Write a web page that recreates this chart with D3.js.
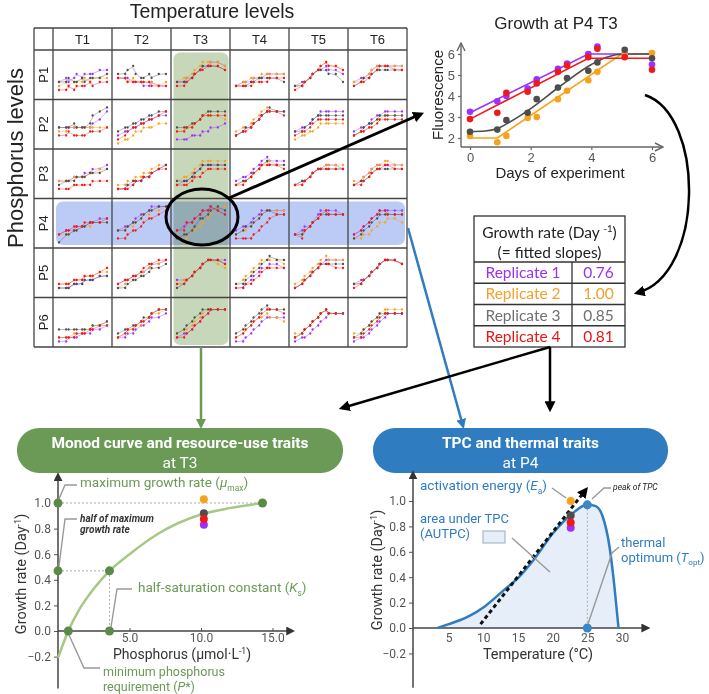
<!DOCTYPE html>
<html>
<head>
<meta charset="utf-8">
<script src="https://cdn.jsdelivr.net/npm/d3@7"></script>
<style>
body { margin: 0; background: #fff; }
svg { display: block; font-family: "Liberation Sans", Arial, sans-serif; }
</style>
</head>
<body>
<svg width="709" height="694"></svg>
<script>
// ---------------- data ----------------
var tempLevels = ["T1", "T2", "T3", "T4", "T5", "T6"];
var phosLevels = ["P1", "P2", "P3", "P4", "P5", "P6"];
var sampleDays = [0, 0.9, 1.2, 1.9, 2.2, 2.9, 3.2, 3.9, 4.2, 5.1, 6];
var replicates = ["Replicate 1", "Replicate 2", "Replicate 3", "Replicate 4"];
var growthRates = ["0.76", "1.00", "0.85", "0.81"];

// small panels, one row per phosphorus level, one cell per temperature:
// readings of replicate 1..4 (0-9 scale), one digit per sampling day
var gridP1 = [
	"34345455566 23233343444 33433434445 11212223233",
	"44433322322 44343333323 55675445455 44333333222",
	"33445677887 34456788887 33345677776 22345667776",
	"23334445555 23344455555 22233444443 22223333444",
	"23345667665 22345678776 22345666553 12345678776",
	"34456777777 33456777777 23445666666 23345677766"
];
var gridP2 = [
	"44444444568 33444444444 44454445789 22322223334",
	"23344556677 01123344455 34455667788 12344556678",
	"11122233445 33445677776 44455678888 33445677777",
	"23445678888 34456789888 23445678988 23345678887",
	"34456788888 12233455555 33456777777 23345666666",
	"34456778888 23345667777 23455677777 23344566666"
];
var gridP3 = [
	"33344455667 33344445566 23334445556 11122222333",
	"11223344567 22334455677 11233344567 11123344566",
	"23345677777 34456788888 33345677777 22234456666",
	"34456789888 23345678877 23345678777 22345677776",
	"23345667776 22345667777 23345666666 22345666666",
	"23456777777 33456778877 23345666666 22345667766"
];
var gridP4 = [
	"23334445566 22233444555 02233445555 23344455556",
	"34456778999 33445677889 33455678899 11233456678",
	"34556788987 10133456799 12234667898 33556788987",
	"34456788888 23345678888 23445678877 11112345677",
	"23445788887 22345678777 22345677777 21345678777",
	"23456788888 11223455665 12345677777 23456788777"
];
var gridP5 = [
	"11122233344 22233344455 11122233344 22233344456",
	"23344556778 12334456778 11233445667 23344567788",
	"33345678888 23345678876 12345678887 22345678887",
	"11234566776 23456788887 22345678988 11223456666",
	"12345678888 23456789888 12345677777 12345677766",
	"23345678887 22345678887 22345678887 12345678887"
];
var gridP6 = [
	"00111222334 11122233445 33333333445 11112223344",
	"11223445667 12334456778 23344566788 12334556788",
	"12234567888 23345678888 23456788888 11234567888",
	"00123456666 12345667665 23456789888 12345678887",
	"01123456777 22345678777 12345678777 12345678777",
	"01123456777 22345678888 12345677777 11234567777"
];
var gridRows = [gridP1, gridP2, gridP3, gridP4, gridP5, gridP6];

// growth at P4 T3 (fluorescence)
var fluoRep1 = [3.25, 3.75, 4.0, 4.35, 4.8, 5.3, 5.55, 6.0, 6.35, 6.0, 5.5];
var fluoRep2 = [2.1, 1.8, 2.1, 2.95, 3.0, 3.85, 4.25, 4.75, 5.15, 5.95, 6.05];
var fluoRep3 = [2.3, 2.4, 2.85, 3.2, 3.85, 4.4, 4.85, 5.2, 5.6, 6.2, 5.8];
var fluoRep4 = [2.9, 3.2, 4.15, 4.2, 4.6, 5.15, 5.45, 5.85, 6.25, 5.85, 5.25];
var fitRep1 = [[0, 3.2], [3.9, 6.0], [6, 6.0]];
var fitRep2 = [[0, 2.0], [0.9, 2.0], [5.0, 6.0], [6, 6.0]];
var fitRep3 = [[0, 2.3], [0.5, 2.33], [0.9, 2.45], [1.3, 2.75], [2, 3.4], [3, 4.5], [4, 5.5], [4.5, 5.85], [5.1, 6.0], [6, 6.0]];
var fitRep4 = [[0, 2.9], [3.9, 5.8], [6, 5.8]];

// Monod curve at T3
var monodP = [0, 0.72, 1.5, 2.5, 3.6, 5, 7, 10, 12, 14.3];
var monodMu = [-0.21, 0, 0.17, 0.33, 0.47, 0.6, 0.76, 0.91, 0.96, 1.0];
var monodTicksX = [5, 10, 15];
var monodTicksY = [-0.2, 0, 0.2, 0.4, 0.6, 0.8, 1.0];
var muMax = 1.0, halfMu = 0.47, kS = 3.6, pStar = 0.72, pSat = 14.3;
var monodRepP = 10.2;
var monodRepMu = [0.83, 1.03, 0.92, 0.875];

// thermal performance curve at P4
var tpcTemp = [3.4, 5, 6.7, 8, 10.2, 13, 15.2, 17.3, 20.1, 22.6, 25, 26.2, 27.2, 28.2, 28.9, 29.5];
var tpcRate = [0, 0.03, 0.063, 0.095, 0.17, 0.3, 0.405, 0.54, 0.75, 0.89, 0.97, 0.96, 0.88, 0.64, 0.33, 0];
var tpcTicksX = [5, 10, 15, 20, 25, 30];
var tpcTicksY = [-0.2, 0, 0.2, 0.4, 0.6, 0.8, 1.0];
var tOpt = 25, peakRate = 0.97;
var eaLine = [[9.6, 0.03], [24.8, 1.09]];
var tpcRepT = 22.6;
var tpcRepRate = [0.79, 1.0, 0.885, 0.83];

// ---------------- style ----------------
var repColors = ["#9b30ff", "#f7a21b", "#4d4d4d", "#f01818"];
var tableColors = ["#9b30f0", "#f2a12a", "#707070", "#e81515"];
var green = "#6b9a56", darkGreen = "#5b8a48", lightGreen = "#a5c882";
var blue = "#2f7cc0", dotBlue = "#3a86c8";

var svg = d3.select("svg");
var defs = svg.append("defs");

function marker(id, color, size, open) {
	var m = defs.append("marker")
		.attr("id", id)
		.attr("viewBox", "0 0 10 10")
		.attr("refX", open ? 9 : 7)
		.attr("refY", 5)
		.attr("markerWidth", size)
		.attr("markerHeight", size)
		.attr("markerUnits", "userSpaceOnUse")
		.attr("orient", "auto");
	if (open)
		m.append("path").attr("d", "M1,1 L9,5 L1,9").attr("fill", "none").attr("stroke", color).attr("stroke-width", 1.4);
	else
		m.append("path").attr("d", "M0,0 L10,5 L0,10 z").attr("fill", color);
}
marker("arBlack", "#000", 11);
marker("arGreen", green, 10);
marker("arBlue", blue, 10);
marker("arAxis", "#333", 9);
marker("arOpen", "#666", 10, true);

// text with italic / sub / sup parts
function rich(parent, x, y, parts, size, color, anchor) {
	var t = parent.append("text")
		.attr("x", x).attr("y", y)
		.attr("font-size", size)
		.attr("fill", color)
		.attr("text-anchor", anchor || "start");
	var shift = 0;
	parts.forEach(p => {
		if (typeof p === "string") p = {t: p};
		var s = t.append("tspan").text(p.t);
		var target = p.sub ? size * 0.28 : p.sup ? -size * 0.38 : 0;
		if (target !== shift) { s.attr("dy", target - shift); shift = target; }
		if (p.sub || p.sup) s.attr("font-size", size * 0.62);
		if (p.i) s.attr("font-style", "italic");
	});
	return t;
}

// ---------------- grid of growth curves ----------------
var cols = d3.scaleBand().domain(tempLevels).range([53, 407]);
var rows = d3.scaleBand().domain(phosLevels).range([50, 347]);
var gridLeft = 34, gridTop = 28;

svg.append("text")
	.attr("x", 212).attr("y", 17.5)
	.attr("text-anchor", "middle")
	.attr("font-size", 19.5)
	.attr("fill", "#222")
	.text("Temperature levels");

svg.append("text")
	.attr("transform", "translate(23,158) rotate(-90)")
	.attr("text-anchor", "middle")
	.attr("font-size", 22)
	.attr("fill", "#222")
	.text("Phosphorus levels");

// highlights of column T3 and row P4
svg.append("rect")
	.attr("x", cols("T3") + 2.5).attr("y", rows("P1") + 2.5)
	.attr("width", cols.bandwidth() - 4).attr("height", rows.range()[1] - rows("P1") - 4.5)
	.attr("rx", 7)
	.attr("fill", "#c7d7ba");
svg.append("rect")
	.attr("x", cols("T1") + 3).attr("y", rows("P4") + 3)
	.attr("width", cols.range()[1] - cols("T1") - 5).attr("height", rows.bandwidth() - 6)
	.attr("rx", 7)
	.attr("fill", "#bccbf6")
	.style("mix-blend-mode", "multiply");

var miniX = d3.scaleLinear().domain([0, 6]).range([6, 54]);
var miniY = d3.scaleLinear().domain([0, 9]).range([44, 8]);
var miniLine = d3.line()
	.x((d, i) => miniX(sampleDays[i]))
	.y(d => miniY(d))
	.curve(d3.curveBasis);

gridRows.forEach((row, i) => {
	row.forEach((cell, j) => {
		var g = svg.append("g")
			.attr("transform", "translate(" + cols(tempLevels[j]) + "," + rows(phosLevels[i]) + ")");
		cell.split(" ").forEach((s, k) => {
			var vals = s.split("").map(Number);
			g.append("path")
				.attr("d", miniLine(vals))
				.attr("fill", "none")
				.attr("stroke", repColors[k])
				.attr("stroke-width", 0.9)
				.attr("opacity", 0.45);
			g.selectAll(null)
				.data(vals)
				.enter().append("circle")
				.attr("cx", (d, n) => miniX(sampleDays[n]))
				.attr("cy", d => miniY(d))
				.attr("r", 1.15)
				.attr("fill", repColors[k]);
		});
	});
});

// grid lines
var gridLines = svg.append("g").attr("stroke", "#444").attr("stroke-width", 1.3);
var xs = [gridLeft].concat(tempLevels.map(t => cols(t)), [cols.range()[1]]);
var ys = [gridTop].concat(phosLevels.map(p => rows(p)), [rows.range()[1]]);
xs.forEach(x => gridLines.append("line").attr("x1", x).attr("x2", x).attr("y1", gridTop).attr("y2", rows.range()[1]));
ys.forEach(y => gridLines.append("line").attr("x1", gridLeft).attr("x2", cols.range()[1]).attr("y1", y).attr("y2", y));

svg.selectAll(".tlab")
	.data(tempLevels)
	.enter().append("text")
	.attr("x", d => cols(d) + cols.bandwidth() / 2)
	.attr("y", 44)
	.attr("text-anchor", "middle")
	.attr("font-size", 13)
	.attr("fill", "#222")
	.text(d => d);
svg.selectAll(".plab")
	.data(phosLevels)
	.enter().append("text")
	.attr("transform", d => "translate(48," + (rows(d) + rows.bandwidth() / 2) + ") rotate(-90)")
	.attr("text-anchor", "middle")
	.attr("font-size", 13)
	.attr("fill", "#222")
	.text(d => d);

// circle on P4 T3 and arrow to growth plot
svg.append("ellipse")
	.attr("cx", 202).attr("cy", 217).attr("rx", 36).attr("ry", 28)
	.attr("fill", "none").attr("stroke", "#000").attr("stroke-width", 3);
svg.append("line")
	.attr("x1", 229).attr("y1", 198).attr("x2", 421).attr("y2", 114)
	.attr("stroke", "#000").attr("stroke-width", 3)
	.attr("marker-end", "url(#arBlack)");

// ---------------- growth at P4 T3 ----------------
var gx = d3.scaleLinear().domain([0, 6]).range([470, 652]);
var gy = d3.scaleLinear().domain([2, 6]).range([138, 54]);
var gPlot = svg.append("g");
gPlot.append("text")
	.attr("x", 556).attr("y", 29)
	.attr("text-anchor", "middle").attr("font-size", 17).attr("fill", "#222")
	.text("Growth at P4 T3");
gPlot.append("line").attr("x1", 461).attr("y1", 147).attr("x2", 461).attr("y2", 43)
	.attr("stroke", "#666").attr("stroke-width", 1.4).attr("marker-end", "url(#arOpen)");
gPlot.append("line").attr("x1", 461).attr("y1", 147).attr("x2", 663).attr("y2", 147)
	.attr("stroke", "#666").attr("stroke-width", 1.4).attr("marker-end", "url(#arOpen)");
var gAxX = gPlot.append("g").attr("transform", "translate(0,147)")
	.call(d3.axisBottom(gx).tickValues([0, 2, 4, 6]).tickFormat(d3.format("d")).tickSize(3).tickPadding(3));
var gAxY = gPlot.append("g").attr("transform", "translate(461,0)")
	.call(d3.axisLeft(gy).tickValues([2, 3, 4, 5, 6]).tickFormat(d3.format("d")).tickSize(3).tickPadding(3));
[gAxX, gAxY].forEach(a => {
	a.select(".domain").remove();
	a.selectAll("line").attr("stroke", "#666").attr("stroke-width", 1.2);
	a.selectAll("text").attr("font-size", 13).attr("fill", "#555").attr("font-family", "Liberation Sans");
});
gPlot.append("text")
	.attr("transform", "translate(443,95) rotate(-90)")
	.attr("text-anchor", "middle").attr("font-size", 15).attr("fill", "#222")
	.text("Fluorescence");
gPlot.append("text")
	.attr("x", 560).attr("y", 178)
	.attr("text-anchor", "middle").attr("font-size", 15).attr("fill", "#222")
	.text("Days of experiment");

var fitLine = d3.line().x(d => gx(d[0])).y(d => gy(d[1]));
[fitRep1, fitRep2, fitRep3, fitRep4].forEach((f, k) => {
	gPlot.append("path").attr("d", fitLine.curve(k === 2 ? d3.curveMonotoneX : d3.curveLinear)(f))
		.attr("fill", "none").attr("stroke", repColors[k]).attr("stroke-width", 1.6);
});
[fluoRep1, fluoRep2, fluoRep3, fluoRep4].forEach((vals, k) => {
	gPlot.selectAll(null).data(vals).enter().append("circle")
		.attr("cx", (d, n) => gx(sampleDays[n]))
		.attr("cy", d => gy(d))
		.attr("r", 3.3)
		.attr("fill", repColors[k]);
});

// curved arrow to the table
svg.append("path")
	.attr("d", "M645,95 C705,115 705,275 637,293")
	.attr("fill", "none").attr("stroke", "#000").attr("stroke-width", 2.5)
	.attr("marker-end", "url(#arBlack)");

// ---------------- table of growth rates ----------------
var tab = svg.append("g").attr("font-family", "Lato, 'Open Sans', sans-serif");
var tabX0 = 474, tabX1 = 625, tabXm = 572;
var tabRows = d3.scaleBand().domain(replicates).range([262, 347]);
tab.append("rect").attr("x", tabX0).attr("y", 216).attr("width", tabX1 - tabX0).attr("height", 347 - 216)
	.attr("fill", "#fff").attr("stroke", "#333").attr("stroke-width", 1.3);
replicates.forEach(r => {
	tab.append("line").attr("x1", tabX0).attr("x2", tabX1).attr("y1", tabRows(r)).attr("y2", tabRows(r))
		.attr("stroke", "#333").attr("stroke-width", 1.3);
});
tab.append("line").attr("x1", tabXm).attr("x2", tabXm).attr("y1", 262).attr("y2", 347)
	.attr("stroke", "#333").attr("stroke-width", 1.3);
rich(tab, (tabX0 + tabX1) / 2, 237.5, ["Growth rate (Day ", {t: "-1", sup: true}, ")"], 15.5, "#222", "middle");
tab.append("text").attr("x", (tabX0 + tabX1) / 2).attr("y", 257.5)
	.attr("text-anchor", "middle").attr("font-size", 15.5).attr("fill", "#222")
	.text("(= fitted slopes)");
replicates.forEach((r, k) => {
	var yc = tabRows(r) + tabRows.bandwidth() / 2 + 5.5;
	tab.append("text").attr("x", (tabX0 + tabXm) / 2).attr("y", yc)
		.attr("text-anchor", "middle").attr("font-size", 15.5).attr("fill", tableColors[k]).text(r);
	tab.append("text").attr("x", (tabXm + tabX1) / 2).attr("y", yc)
		.attr("text-anchor", "middle").attr("font-size", 15.5).attr("fill", tableColors[k]).text(growthRates[k]);
});

// ---------------- connectors ----------------
svg.append("line").attr("x1", 201).attr("y1", 347).attr("x2", 201).attr("y2", 426)
	.attr("stroke", green).attr("stroke-width", 2.5).attr("marker-end", "url(#arGreen)");
svg.append("line").attr("x1", 408).attr("y1", 228).attr("x2", 463).attr("y2", 426)
	.attr("stroke", blue).attr("stroke-width", 2.5).attr("marker-end", "url(#arBlue)");
svg.append("line").attr("x1", 550).attr("y1", 347).attr("x2", 550).attr("y2", 409)
	.attr("stroke", "#000").attr("stroke-width", 2.5).attr("marker-end", "url(#arBlack)");
svg.append("line").attr("x1", 550).attr("y1", 347).attr("x2", 342).attr("y2", 408)
	.attr("stroke", "#000").attr("stroke-width", 2.5).attr("marker-end", "url(#arBlack)");

// ---------------- banners ----------------
var bottom = svg.append("g").attr("font-family", "Roboto, sans-serif");
function banner(x, w, color, title, sub) {
	bottom.append("rect").attr("x", x).attr("y", 428).attr("width", w).attr("height", 45).attr("rx", 22)
		.attr("fill", color);
	bottom.append("text").attr("x", x + w / 2).attr("y", 448)
		.attr("text-anchor", "middle").attr("font-size", 15.5).attr("font-weight", "bold").attr("fill", "#fff")
		.text(title);
	bottom.append("text").attr("x", x + w / 2).attr("y", 468)
		.attr("text-anchor", "middle").attr("font-size", 15.5).attr("fill", "#fff")
		.text(sub);
}
banner(17, 326, green, "Monod curve and resource-use traits", "at T3");
banner(373, 295, blue, "TPC and thermal traits", "at P4");

function styleAxis(a) {
	a.select(".domain").remove();
	a.selectAll("line").attr("stroke", "#555").attr("stroke-width", 1);
	a.selectAll("text").attr("font-size", 12).attr("fill", "#555").attr("font-family", "Roboto, sans-serif");
}

// ---------------- Monod panel ----------------
var mx = d3.scaleLinear().domain([0, 15]).range([58, 272.5]);
var my = d3.scaleLinear().domain([-0.2, 1.0]).range([656.6, 503]);
var mon = bottom.append("g");
var monAxX = mon.append("g").attr("transform", "translate(0," + my(0) + ")")
	.call(d3.axisBottom(mx).tickValues(monodTicksX).tickFormat(d3.format(".1f")).tickSize(0).tickPadding(2.5));
var monAxY = mon.append("g").attr("transform", "translate(" + mx(0) + ",0)")
	.call(d3.axisLeft(my).tickValues(monodTicksY).tickFormat(d3.format(".1f")).tickSize(4).tickPadding(3));
styleAxis(monAxX);
styleAxis(monAxY);
monAxX.selectAll("line").attr("y2", -3);
mon.append("line").attr("x1", mx(0)).attr("x2", mx(0)).attr("y1", my(-0.45)).attr("y2", my(1.22))
	.attr("stroke", "#444").attr("stroke-width", 1.5).attr("marker-end", "url(#arAxis)");
mon.append("line").attr("x1", mx(0)).attr("x2", mx(16.4)).attr("y1", my(0)).attr("y2", my(0))
	.attr("stroke", "#444").attr("stroke-width", 1.5).attr("marker-end", "url(#arAxis)");
rich(mon, 0, 0, ["Growth rate (Day", {t: "-1", sup: true}, ")"], 14.5, "#333", "middle")
	.attr("transform", "translate(26,574) rotate(-90)");
rich(mon, 182, 659, ["Phosphorus (\u00b5mol\u00b7L", {t: "-1", sup: true}, ")"], 14, "#333", "middle");

// guide lines
var guide = mon.append("g").attr("stroke", "#aaa").attr("stroke-width", 1).attr("stroke-dasharray", "2,2");
guide.append("line").attr("x1", mx(0)).attr("x2", mx(pSat)).attr("y1", my(muMax)).attr("y2", my(muMax));
guide.append("line").attr("x1", mx(0)).attr("x2", mx(kS)).attr("y1", my(halfMu)).attr("y2", my(halfMu));
guide.append("line").attr("x1", mx(kS)).attr("x2", mx(kS)).attr("y1", my(halfMu)).attr("y2", my(0));

mon.append("path")
	.attr("d", d3.line().x((d, i) => mx(monodP[i])).y(d => my(d)).curve(d3.curveMonotoneX)(monodMu))
	.attr("fill", "none").attr("stroke", lightGreen).attr("stroke-width", 2.5);

var monPts = [[0, muMax], [pSat, muMax], [0, halfMu], [kS, halfMu], [kS, 0], [pStar, 0]];
mon.selectAll(null).data(monPts).enter().append("circle")
	.attr("cx", d => mx(d[0])).attr("cy", d => my(d[1])).attr("r", 4.5).attr("fill", darkGreen);
mon.selectAll(null).data(monodRepMu).enter().append("circle")
	.attr("cx", mx(monodRepP)).attr("cy", d => my(d)).attr("r", 4).attr("fill", (d, k) => repColors[k]);

// leaders and labels
var leader = d3.line();
var lead = mon.append("g").attr("fill", "none").attr("stroke", "#999").attr("stroke-width", 1.4);
lead.append("path").attr("d", leader([[59, 499], [65, 485], [77, 485]]));
lead.append("path").attr("d", leader([[59, 566], [65, 519], [77, 519]]));
lead.append("path").attr("d", leader([[111, 627], [117, 589], [132, 589]]));
lead.append("path").attr("d", leader([[69, 635], [84, 668], [100, 668]]));
rich(mon, 80, 487, ["maximum growth rate (", {t: "\u03bc", i: true}, {t: "max", sub: true}, ")"], 13.5, green);
mon.append("text").attr("x", 80).attr("y", 522).attr("font-size", 10).attr("font-style", "italic")
	.attr("font-weight", "bold").attr("fill", "#333").text("half of maximum");
mon.append("text").attr("x", 80).attr("y", 533).attr("font-size", 10).attr("font-style", "italic")
	.attr("font-weight", "bold").attr("fill", "#333").text("growth rate");
rich(mon, 138, 592, ["half-saturation constant (", {t: "K", i: true}, {t: "s", sub: true}, ")"], 13.5, green);
mon.append("text").attr("x", 103).attr("y", 676).attr("font-size", 12.5).attr("fill", green).text("minimum phosphorus");
rich(mon, 103, 690.5, ["requirement (", {t: "P", i: true}, "*)"], 12.5, green);

// ---------------- TPC panel ----------------
var tx = d3.scaleLinear().domain([0, 30]).range([414, 622]);
var ty = d3.scaleLinear().domain([-0.2, 1.0]).range([653.4, 501]);
var tpc = bottom.append("g");
tpc.append("path")
	.attr("d", d3.area().x((d, i) => tx(tpcTemp[i])).y0(ty(0)).y1(d => ty(d)).curve(d3.curveMonotoneX)(tpcRate))
	.attr("fill", "#e6eef9");
var tpcAxX = tpc.append("g").attr("transform", "translate(0," + ty(0) + ")")
	.call(d3.axisBottom(tx).tickValues(tpcTicksX).tickSize(0).tickPadding(5));
var tpcAxY = tpc.append("g").attr("transform", "translate(413,0)")
	.call(d3.axisLeft(ty).tickValues(tpcTicksY).tickFormat(d3.format(".1f")).tickSize(4).tickPadding(3));
styleAxis(tpcAxX);
styleAxis(tpcAxY);
tpc.append("line").attr("x1", 413).attr("x2", 413).attr("y1", ty(-0.47)).attr("y2", ty(1.22))
	.attr("stroke", "#444").attr("stroke-width", 1.5).attr("marker-end", "url(#arAxis)");
tpc.append("line").attr("x1", 413).attr("x2", tx(33.7)).attr("y1", ty(0)).attr("y2", ty(0))
	.attr("stroke", "#444").attr("stroke-width", 1.5).attr("marker-end", "url(#arAxis)");
rich(tpc, 0, 0, ["Growth rate (Day", {t: "-1", sup: true}, ")"], 14.5, "#333", "middle")
	.attr("transform", "translate(382,570) rotate(-90)");
tpc.append("text").attr("x", 538).attr("y", 659).attr("text-anchor", "middle")
	.attr("font-size", 14.5).attr("fill", "#333").text("Temperature (\u00b0C)");

tpc.append("line").attr("x1", tx(tOpt)).attr("x2", tx(tOpt)).attr("y1", ty(peakRate)).attr("y2", ty(0))
	.attr("stroke", "#aaa").attr("stroke-width", 1).attr("stroke-dasharray", "2,2");
tpc.append("path")
	.attr("d", d3.line().x((d, i) => tx(tpcTemp[i])).y(d => ty(d)).curve(d3.curveMonotoneX)(tpcRate))
	.attr("fill", "none").attr("stroke", blue).attr("stroke-width", 2.5);
tpc.append("path")
	.attr("d", d3.line().x(d => tx(d[0])).y(d => ty(d[1]))(eaLine))
	.attr("fill", "none").attr("stroke", "#111").attr("stroke-width", 3).attr("stroke-dasharray", "4,3")
	.attr("marker-end", "url(#arBlack)");
tpc.selectAll(null).data([[tOpt, peakRate], [tOpt, 0]]).enter().append("circle")
	.attr("cx", d => tx(d[0])).attr("cy", d => ty(d[1])).attr("r", 4.5).attr("fill", dotBlue);
tpc.selectAll(null).data(tpcRepRate).enter().append("circle")
	.attr("cx", tx(tpcRepT)).attr("cy", d => ty(d)).attr("r", 4).attr("fill", (d, k) => repColors[k]);

var tlead = tpc.append("g").attr("fill", "none").attr("stroke", "#999").attr("stroke-width", 1.4);
tlead.append("path").attr("d", leader([[552, 488], [566, 498]]));
tlead.append("path").attr("d", leader([[592, 499], [604, 488], [611, 488]]));
tlead.append("path").attr("d", leader([[512, 538], [550, 572]]));
tlead.append("path").attr("d", leader([[588, 624], [612, 553], [619, 547]]));
tpc.append("rect").attr("x", 483).attr("y", 531).attr("width", 22).attr("height", 12)
	.attr("fill", "#e6eef9").attr("stroke", "#9aaabd").attr("stroke-width", 1);

rich(tpc, 420, 490, ["activation energy (", {t: "E", i: true}, {t: "a", sub: true}, ")"], 13.5, blue);
tpc.append("text").attr("x", 613).attr("y", 489.5).attr("font-size", 8.5).attr("font-style", "italic")
	.attr("fill", "#222").text("peak of TPC");
tpc.append("text").attr("x", 420).attr("y", 522.5).attr("font-size", 13).attr("fill", blue).text("area under TPC");
tpc.append("text").attr("x", 420).attr("y", 537.5).attr("font-size", 13).attr("fill", blue).text("(AUTPC)");
tpc.append("text").attr("x", 621).attr("y", 546.5).attr("font-size", 13).attr("fill", blue).text("thermal");
rich(tpc, 621, 561.5, ["optimum (", {t: "T", i: true}, {t: "opt", sub: true}, ")"], 13, blue);
</script>
</body>
</html>
